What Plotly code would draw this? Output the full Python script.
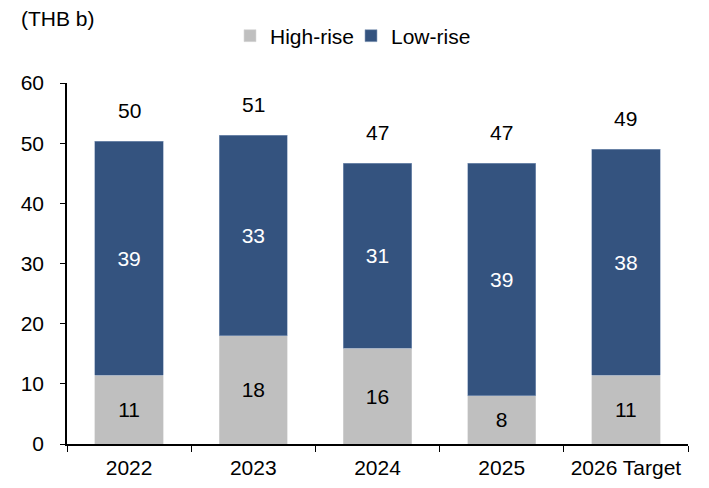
import plotly.graph_objects as go

# Presales by segment, THB billion
years = ["2022", "2023", "2024", "2025", "2026 Target"]
high_rise = [11.4, 18.0, 15.9, 8.0, 11.4]
low_rise = [38.9, 33.3, 30.8, 38.7, 37.6]
totals = [h + l for h, l in zip(high_rise, low_rise)]

FONT = "Liberation Sans, Arial, sans-serif"
FS = 21
GRAY = "#BFBFBF"
BLUE = "#34537F"

fig = go.Figure()
fig.add_bar(
    x=years, y=high_rise, name="High-rise",
    marker=dict(color=GRAY, line=dict(color="#D9D9D9", width=0.6)),
    text=[f"{v:.0f}" for v in high_rise], textposition="inside",
    insidetextanchor="middle",
    textfont=dict(color="black", size=FS, family=FONT),
)
fig.add_bar(
    x=years, y=low_rise, name="Low-rise",
    marker=dict(color=BLUE, line=dict(color="#8EA2C0", width=0.6)),
    text=[f"{v:.0f}" for v in low_rise], textposition="inside",
    insidetextanchor="middle",
    textfont=dict(color="white", size=FS, family=FONT),
)

# Total labels above each stack (category index on the x axis)
for i, t in enumerate(totals):
    fig.add_annotation(
        x=i, y=t, text=f"{t:.0f}", showarrow=False,
        yanchor="middle", yshift=31,
        font=dict(size=FS, color="black", family=FONT),
    )

fig.add_annotation(
    xref="paper", yref="paper", x=-0.077, y=1.0, yshift=65,
    xanchor="left", yanchor="middle",
    text="(THB b)", showarrow=False,
    font=dict(size=FS, color="black", family=FONT),
)

fig.update_layout(
    barmode="stack",
    bargap=0.45,
    width=709, height=488,
    margin=dict(l=67, r=21, t=83, b=44, autoexpand=False),
    paper_bgcolor="white", plot_bgcolor="white",
    font=dict(family=FONT, size=FS, color="black"),
    legend=dict(
        orientation="h", x=(230 - 67) / 621, xanchor="left",
        y=1.0 + 47 / 361, yanchor="middle",
        font=dict(size=FS, family=FONT), traceorder="normal",
        entrywidth=76, entrywidthmode="pixels",
    ),
    showlegend=True,
)

fig.update_yaxes(
    range=[0, 60], dtick=10, showgrid=False, zeroline=False,
    showline=True, linecolor="black", linewidth=1.5,
    ticks="outside", ticklen=5, tickcolor="black", ticklabelstandoff=12,
    tickfont=dict(size=FS, family=FONT), automargin=False,
)
fig.update_xaxes(
    type="category", range=[-0.5, len(years) - 0.5],
    showgrid=False, showline=True, linecolor="black", linewidth=1.5,
    ticks="outside", ticklen=6, tickcolor="black", tickson="boundaries",
    ticklabelstandoff=4, automargin=False,
    tickfont=dict(size=FS, family=FONT),
)

fig.write_html("out.html")
